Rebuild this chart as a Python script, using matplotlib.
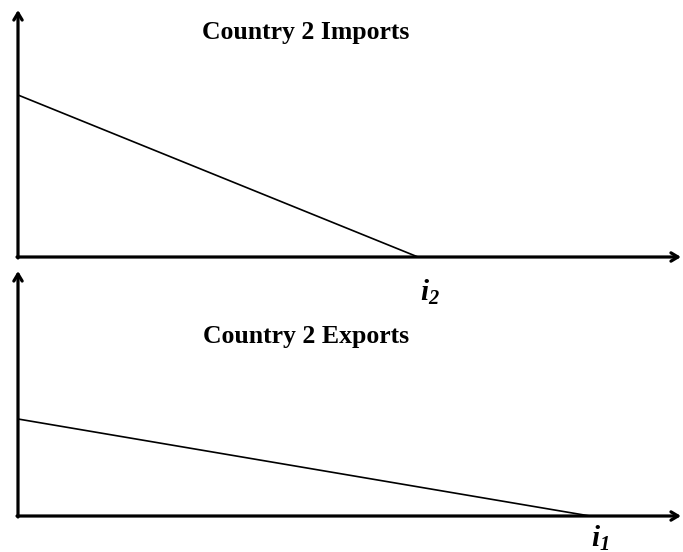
import matplotlib
matplotlib.use("Agg")
import matplotlib.pyplot as plt

plt.rcParams['font.family'] = ['Liberation Serif', 'DejaVu Serif']
plt.rcParams['mathtext.fontset'] = 'custom'
plt.rcParams['mathtext.it'] = 'Liberation Serif:italic:bold'
plt.rcParams['mathtext.rm'] = 'Liberation Serif:italic:bold'
plt.rcParams['mathtext.bf'] = 'Liberation Serif:italic:bold'

# Data (abstract units, origin at each panel's axes corner)
panels = ["Country 2 Imports", "Country 2 Exports"]
intercepts = [162, 97]          # value at x = 0
zeros = [400, 572]              # x where the line hits zero
zero_labels = [r"$i_2$", r"$i_1$"]
x_max = [663, 663]
y_max = [247, 245]

W, H = 683, 552
fig = plt.figure(figsize=(W / 100, H / 100), dpi=100)

# axes rectangles in pixels: (left, origin_y, top_y)
rects = [(18, 257, 0), (18, 516, 262)]
title_pos = [(288, 225), (288, 179)]
label_pos = [(412, -35), (582, -22)]

for i in range(2):
    left, oy, ty = rects[i]
    ax = fig.add_axes([left / W, (H - oy) / H, (W - left) / W, (oy - ty) / H])
    ax.set_xlim(0, W - left)
    ax.set_ylim(0, oy - ty)
    ax.axis("off")
    ap = dict(arrowstyle="->,head_length=0.5,head_width=0.3", lw=2.3, color="black",
              shrinkA=0, shrinkB=0)
    ax.annotate("", xy=(x_max[i], 0), xytext=(-1, 0), arrowprops=ap, annotation_clip=False)
    ax.annotate("", xy=(0, y_max[i]), xytext=(0, -1), arrowprops=ap, annotation_clip=False)
    ax.plot([0, zeros[i]], [intercepts[i], 0], color="black", lw=1.2, solid_capstyle="butt")
    ax.text(title_pos[i][0], title_pos[i][1], panels[i], ha="center", va="center",
            fontsize=18.5, fontweight="bold")
    ax.text(label_pos[i][0], label_pos[i][1], zero_labels[i], ha="center", va="center",
            fontsize=21, clip_on=False)

fig.savefig("out.png", dpi=100)
